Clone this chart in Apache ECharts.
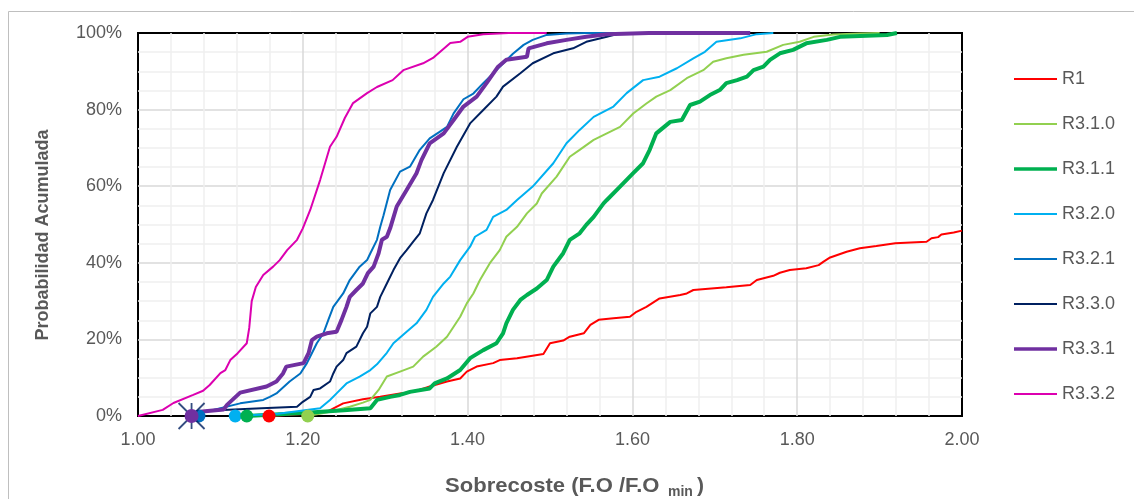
<!DOCTYPE html>
<html>
<head>
<meta charset="utf-8">
<script src="https://cdn.jsdelivr.net/npm/echarts@6/dist/echarts.min.js"></script>
<style>
  html, body { margin: 0; padding: 0; background: #fff; }
  #chart { width: 1134px; height: 499px; }
</style>
</head>
<body>
<div id="chart"></div>
<script>
// Cumulative probability curves: [cost ratio F.O/F.Omin, cumulative probability %]
const seriesNames = ['R1', 'R3.1.0', 'R3.1.1', 'R3.2.0', 'R3.2.1', 'R3.3.0', 'R3.3.1', 'R3.3.2'];

const R1 = [[1.159,0],[1.20,0.5],[1.229,1.1],[1.249,3.3],[1.273,4.4],[1.294,5],[1.318,5.9],[1.334,6.3],[1.354,7.7],[1.375,9],[1.391,9.8],[1.399,11.6],[1.411,12.9],[1.431,13.8],[1.439,14.6],[1.46,15.1],[1.492,16.2],[1.5,19],[1.516,19.7],[1.524,20.7],[1.541,21.6],[1.549,23.8],[1.559,25.1],[1.577,25.5],[1.597,25.9],[1.605,27.2],[1.617,28.5],[1.633,30.7],[1.658,31.6],[1.666,32],[1.674,32.9],[1.714,33.6],[1.743,34.2],[1.751,35.5],[1.771,36.6],[1.779,37.4],[1.791,38.1],[1.811,38.6],[1.826,39.4],[1.832,40.3],[1.84,41.4],[1.86,42.9],[1.876,43.8],[1.896,44.4],[1.919,45.1],[1.957,45.5],[1.963,46.4],[1.971,46.7],[1.975,47.4],[1.99,47.9],[2.0,48.4]];

const R3_1_0 = [[1.206,0],[1.233,1.1],[1.257,2.4],[1.273,3.5],[1.282,4.2],[1.292,6.8],[1.302,10.3],[1.318,11.6],[1.334,12.9],[1.346,15.5],[1.362,18.1],[1.375,20.7],[1.383,23.3],[1.391,25.9],[1.399,29.4],[1.407,32],[1.415,35.5],[1.427,39.9],[1.439,43.3],[1.447,46.8],[1.46,49.4],[1.472,52.9],[1.484,55.5],[1.49,58.1],[1.508,62.5],[1.524,67.7],[1.536,69.5],[1.553,72.1],[1.569,73.8],[1.585,75.5],[1.601,79],[1.617,81.6],[1.629,83.4],[1.646,85.1],[1.666,88.2],[1.686,90.3],[1.698,92.5],[1.714,93.4],[1.735,94.3],[1.763,95.1],[1.783,96.9],[1.803,97.7],[1.82,99],[1.844,99.6],[1.876,99.9],[1.9,100]];

const R3_1_1 = [[1.132,0],[1.2,0.8],[1.25,1.5],[1.282,2],[1.29,4.2],[1.306,5],[1.318,5.5],[1.33,6.3],[1.354,7.2],[1.36,8.5],[1.375,9.8],[1.391,12],[1.403,15.1],[1.419,17.2],[1.435,19],[1.443,21.6],[1.447,24.2],[1.455,27.7],[1.464,30.3],[1.472,31.6],[1.484,33.3],[1.496,35.5],[1.504,39],[1.516,42.5],[1.524,46],[1.536,47.7],[1.544,49.9],[1.553,52],[1.565,55.5],[1.569,56.4],[1.585,59.9],[1.601,63.4],[1.613,66],[1.621,69.5],[1.629,73.8],[1.646,76.8],[1.66,77.3],[1.67,81.2],[1.682,82.1],[1.694,83.8],[1.706,85.1],[1.714,86.9],[1.727,87.7],[1.739,88.6],[1.747,90.3],[1.759,91.2],[1.767,93],[1.779,94.7],[1.795,95.6],[1.811,97.3],[1.836,98.2],[1.852,99],[1.909,99.5],[1.921,100]];

const R3_2_0 = [[1.118,0],[1.17,0.6],[1.221,2],[1.233,4.2],[1.241,5.9],[1.253,8.5],[1.269,10.3],[1.282,12],[1.29,13.5],[1.302,16.5],[1.31,19],[1.326,22],[1.338,24.2],[1.35,27.7],[1.358,31.1],[1.371,34.6],[1.379,36.4],[1.391,40.7],[1.403,44.2],[1.409,46.8],[1.423,48.6],[1.431,52],[1.447,53.8],[1.46,56.4],[1.479,59.9],[1.504,66],[1.52,71.2],[1.536,74.7],[1.553,78.1],[1.577,80.8],[1.593,84.3],[1.613,87.7],[1.633,88.6],[1.654,90.8],[1.674,93.4],[1.688,95.1],[1.702,97.7],[1.731,98.6],[1.751,99.7],[1.771,100]];

const R3_2_1 = [[1.074,0],[1.08,1.0],[1.124,3.3],[1.152,4.2],[1.16,5],[1.168,5.9],[1.184,9],[1.197,11.1],[1.205,13.8],[1.211,16.4],[1.217,19],[1.225,21.6],[1.231,25.1],[1.237,28.5],[1.249,32],[1.257,35.5],[1.269,39],[1.278,40.7],[1.282,42.5],[1.29,46],[1.294,49.4],[1.298,52.4],[1.306,59],[1.318,63.8],[1.33,65.1],[1.342,69.5],[1.354,72.5],[1.366,74.2],[1.375,75.5],[1.383,79],[1.395,82.7],[1.407,84.2],[1.419,86.9],[1.427,88.6],[1.439,91.2],[1.455,94.6],[1.468,96.9],[1.479,98.2],[1.496,99.5],[1.52,99.9],[1.544,100],[1.6,100]];

const R3_3_0 = [[1.065,0],[1.083,1.4],[1.15,2],[1.193,2.4],[1.2,3.7],[1.209,5],[1.213,6.8],[1.221,7.2],[1.233,9],[1.237,11.1],[1.241,12.9],[1.249,14.6],[1.253,16.4],[1.265,18.1],[1.273,21.6],[1.278,23.3],[1.282,26.8],[1.29,28.5],[1.294,31.1],[1.302,34.6],[1.31,38.1],[1.318,41.2],[1.326,43.3],[1.334,45.5],[1.342,47.7],[1.35,52.9],[1.358,56.4],[1.371,63.4],[1.387,70.3],[1.403,76.4],[1.419,79.9],[1.435,83.4],[1.443,86],[1.464,89.5],[1.479,92.1],[1.504,94.7],[1.528,96],[1.544,97.7],[1.569,99],[1.585,99.9],[1.62,100]];

const R3_3_1 = [[1.065,0],[1.075,1.1],[1.104,1.7],[1.108,2.9],[1.124,6.1],[1.156,7.7],[1.168,9],[1.176,11.1],[1.18,12.9],[1.201,13.8],[1.207,16.4],[1.211,19.8],[1.217,20.7],[1.229,21.6],[1.241,22],[1.247,25.1],[1.253,28.5],[1.257,31.1],[1.265,32.9],[1.273,34.6],[1.279,37.3],[1.286,39],[1.292,42.5],[1.296,46],[1.302,46.8],[1.306,49],[1.314,54.7],[1.326,59],[1.338,63.4],[1.344,66.8],[1.354,71.2],[1.371,73.8],[1.383,77.3],[1.395,80.8],[1.411,83.4],[1.423,86.9],[1.437,91.2],[1.447,93],[1.472,93.8],[1.474,96],[1.496,97.3],[1.52,98.2],[1.544,99],[1.569,99.7],[1.62,100],[1.743,100]];

const R3_3_2 = [[1.0,0],[1.03,1.6],[1.043,3.4],[1.067,5.5],[1.079,6.6],[1.087,8.1],[1.1,11.2],[1.106,12],[1.112,14.6],[1.121,16.4],[1.132,19],[1.135,23],[1.138,30],[1.143,33.7],[1.152,36.8],[1.164,39],[1.172,40.7],[1.181,43.3],[1.193,46],[1.2,49],[1.209,53.8],[1.221,61.6],[1.233,70.3],[1.241,72.9],[1.251,77.8],[1.261,81.7],[1.278,84.3],[1.29,85.9],[1.309,87.7],[1.322,90.3],[1.346,92.1],[1.358,93.5],[1.379,97.4],[1.391,97.7],[1.4,99],[1.419,99.7],[1.45,100],[1.496,100]];

const seriesData = [R1, R3_1_0, R3_1_1, R3_2_0, R3_2_1, R3_3_0, R3_3_1, R3_3_2];
const colors = ['#FF0000', '#92D050', '#00B050', '#00B0F0', '#0070C0', '#002060', '#7030A0', '#DC00B0'];
const widths = [2, 2, 4, 2, 2, 2, 4, 2];

const FONT = 'Liberation Sans, Arial, sans-serif';
const GREY = '#595959';

// asterisk marker (vertical bar plus two diagonals)
const STAR = 'path://M10,0 L10,20 M0,0 L20,20 M20,0 L0,20';

// start markers, taken from the first point of each curve (drawing order matters)
const markerSpec = [
  { idx: 4, symbol: 'circle', size: 13 },
  { idx: 5, symbol: STAR, size: 26 },
  { idx: 6, symbol: 'circle', size: 14 },
  { idx: 3, symbol: 'circle', size: 13 },
  { idx: 2, symbol: 'circle', size: 13 },
  { idx: 0, symbol: 'circle', size: 13 },
  { idx: 1, symbol: 'circle', size: 13 }
];

const chart = echarts.init(document.getElementById('chart'), null, { renderer: 'canvas' });

const lineSeries = seriesNames.map((name, i) => ({
  name: name,
  type: 'line',
  data: seriesData[i],
  symbol: 'none',
  showSymbol: false,
  lineStyle: { color: colors[i], width: widths[i] },
  itemStyle: { color: colors[i] },
  z: 3 + i * 0.01,
  animation: false
}));

const markerSeries = {
  type: 'scatter',
  name: 'inicio',
  clip: false,
  z: 5,
  animation: false,
  data: markerSpec.map(m => {
    const isStar = m.symbol === STAR;
    return {
      value: seriesData[m.idx][0],
      symbol: m.symbol,
      symbolSize: m.size,
      itemStyle: isStar
        ? { color: 'rgba(0,0,0,0)', borderColor: colors[m.idx], borderWidth: 1.8 }
        : { color: colors[m.idx], borderWidth: 0, opacity: 1 }
    };
  })
};

// legend on the right: one short line and a label per curve
const LEG_X = 1014, LEG_Y = 79, LEG_STEP = 45, LEG_LEN = 43;
const legendGraphics = [];
seriesNames.forEach((name, i) => {
  const y = LEG_Y + i * LEG_STEP;
  legendGraphics.push({
    type: 'line', silent: true,
    shape: { x1: LEG_X, y1: y, x2: LEG_X + LEG_LEN, y2: y },
    style: { stroke: colors[i], lineWidth: widths[i] === 4 ? 3.5 : 2.2 }
  });
  legendGraphics.push({
    type: 'text', silent: true,
    x: LEG_X + LEG_LEN + 5, y: y,
    style: { text: name, font: '18px ' + FONT, fill: GREY, align: 'left', verticalAlign: 'middle' }
  });
});

chart.setOption({
  animation: false,
  backgroundColor: '#fff',
  textStyle: { fontFamily: FONT },
  grid: {
    left: 138, right: 172, top: 33, bottom: 83,
    show: true, borderColor: '#000', borderWidth: 2, backgroundColor: 'transparent'
  },
  xAxis: {
    type: 'value',
    min: 1, max: 2, interval: 0.2,
    axisLine: { show: false },
    axisTick: { show: false },
    axisLabel: { fontSize: 18, color: GREY, margin: 15, formatter: v => v.toFixed(2) },
    splitLine: { show: true, showMinLine: false, showMaxLine: false, lineStyle: { color: '#d9d9d9', width: 1.5 } },
    minorTick: { show: false, splitNumber: 5 },
    minorSplitLine: { show: true, lineStyle: { color: '#efefef', width: 1.5 } }
  },
  yAxis: {
    type: 'value',
    min: 0, max: 100, interval: 20,
    axisLine: { show: false },
    axisTick: { show: false },
    axisLabel: { fontSize: 18, color: GREY, margin: 16, formatter: '{value}%' },
    splitLine: { show: true, showMinLine: false, showMaxLine: false, lineStyle: { color: '#d9d9d9', width: 1.5 } },
    minorTick: { show: false, splitNumber: 4 },
    minorSplitLine: { show: true, lineStyle: { color: '#efefef', width: 1.5 } }
  },
  series: lineSeries.concat([markerSeries]),
  graphic: [
    {
      type: 'rect', silent: true, z: -1,
      shape: { x: 8.5, y: 11.5, width: 1300, height: 700 },
      style: { fill: 'none', stroke: '#bfbfbf', lineWidth: 1 }
    },
    {
      type: 'text', silent: true,
      x: 445, y: 486, scaleX: 1.05,
      style: { text: 'Sobrecoste (F.O /F.O', font: 'bold 21px ' + FONT, fill: GREY, align: 'left', verticalAlign: 'middle' }
    },
    {
      type: 'text', silent: true,
      x: 668, y: 492,
      style: { text: 'min', font: 'bold 14px ' + FONT, fill: GREY, align: 'left', verticalAlign: 'middle' }
    },
    {
      type: 'text', silent: true,
      x: 697, y: 486,
      style: { text: ')', font: 'bold 21px ' + FONT, fill: GREY, align: 'left', verticalAlign: 'middle' }
    },
    {
      type: 'text', silent: true,
      x: 43, y: 235, rotation: Math.PI / 2,
      style: { text: 'Probabilidad Acumulada', font: 'bold 18px ' + FONT, fill: GREY, align: 'center', verticalAlign: 'middle' }
    }
  ].concat(legendGraphics)
});
</script>
</body>
</html>
